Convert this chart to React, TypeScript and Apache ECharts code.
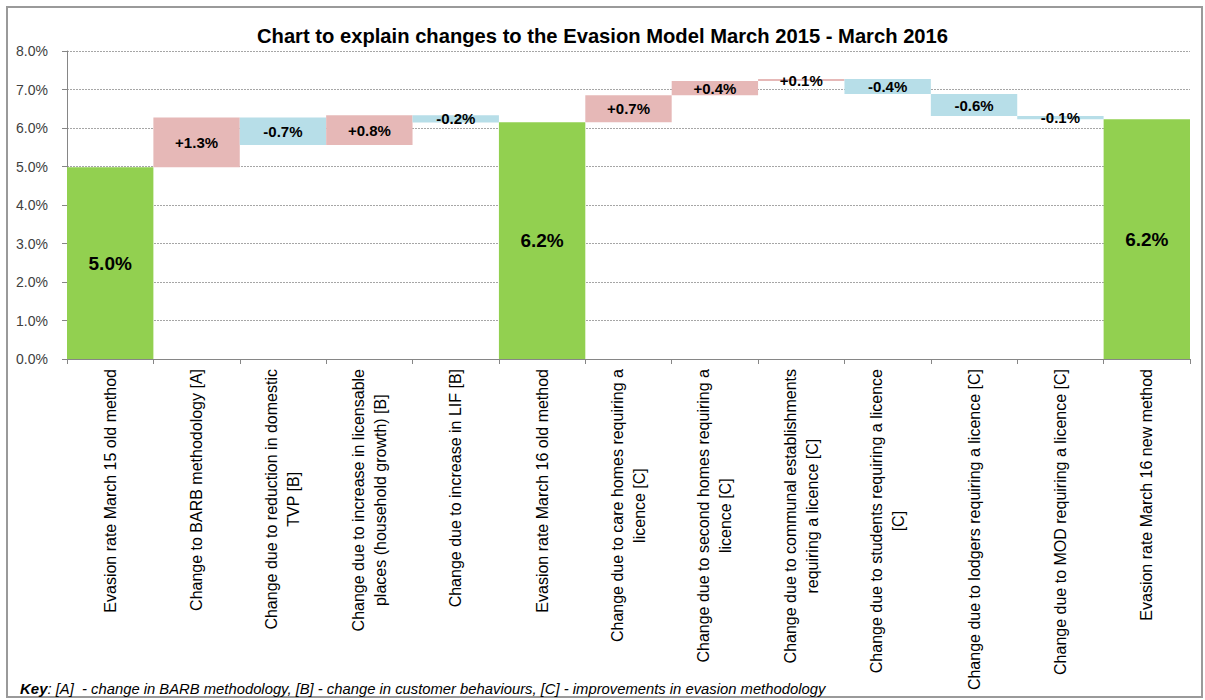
import React, { useEffect, useRef } from "react";
import * as echarts from "echarts";

const categories = [
  "Evasion rate March 15 old method",
  "Change to BARB methodology [A]",
  "Change due to reduction in domestic\nTVP [B]",
  "Change due to increase in licensable\nplaces (household growth) [B]",
  "Change due to increase in LIF [B]",
  "Evasion rate March 16 old method",
  "Change due to care homes requiring a\nlicence [C]",
  "Change due to second homes requiring a\nlicence [C]",
  "Change due to communal establishments\nrequiring a licence [C]",
  "Change due to students requiring a licence\n[C]",
  "Change due to lodgers requiring a licence [C]",
  "Change due to MOD requiring a licence [C]",
  "Evasion rate March 16 new method",
];

// totals (null where the bar is a change)
const totals: (number | null)[] = [4.98, null, null, null, null, 6.15, null, null, null, null, null, null, 6.23];
// changes (null where the bar is a total)
const changes: (number | null)[] = [null, 1.29, -0.71, 0.77, -0.19, null, 0.70, 0.37, 0.05, -0.39, -0.57, -0.08, null];

const yTicks = [0, 1, 2, 3, 4, 5, 6, 7, 8];

const title = "Chart to explain changes to the Evasion Model March 2015 - March 2016";

const GREEN = "#92D050";
const PINK = "#E6B8B7";
const BLUE = "#B7DEE8";

export default function App() {
  const ref = useRef<HTMLDivElement>(null);
  useEffect(() => {
    if (!ref.current) return;
    const chart = echarts.init(ref.current, undefined, { renderer: "svg" });

    const bases: number[] = [];
    const heights: any[] = [];
    const labels: string[] = [];
    let running = 0;
    categories.forEach((_, i) => {
      const t = totals[i];
      const c = changes[i];
      if (t !== null && t !== undefined) {
        running = t;
        bases.push(0);
        heights.push({ value: t, itemStyle: { color: GREEN }, label: { fontSize: 19 } });
        labels.push((Math.round(t * 10) / 10).toFixed(1) + "%");
      } else if (c !== null && c !== undefined) {
        const next = running + c;
        bases.push(Math.min(running, next));
        heights.push({ value: Math.abs(c), itemStyle: { color: c >= 0 ? PINK : BLUE }, label: { fontSize: 15 } });
        const r = Math.round(c * 10) / 10;
        labels.push((r >= 0 ? "+" : "-") + Math.abs(r).toFixed(1) + "%");
        running = next;
      }
    });

    chart.setOption({
      animation: false,
      textStyle: { fontFamily: "Liberation Sans, Arial, sans-serif" },
      title: {
        text: title,
        left: "center",
        top: 21,
        textStyle: { fontSize: 20.2, fontWeight: "bold", color: "#000", fontFamily: "Liberation Sans, Arial, sans-serif" },
      },
      grid: { left: 67, right: 15, top: 51, bottom: 341, containLabel: false },
      xAxis: {
        type: "category",
        data: categories,
        axisLine: { lineStyle: { color: "#868686", width: 1 } },
        axisTick: { show: true, length: 5, lineStyle: { color: "#868686" } },
        axisLabel: {
          rotate: 90,
          interval: 0,
          margin: 10,
          fontSize: 16,
          color: "#000",
          lineHeight: 22,
          fontFamily: "Liberation Sans, Arial, sans-serif",
          formatter: (v: string) =>
            v
              .split("\n")
              .map((line) => "{c|" + line + "}")
              .join("\n"),
          rich: {
            c: {
              align: "center",
              fontSize: 16,
              lineHeight: 22,
              color: "#000",
              fontFamily: "Liberation Sans, Arial, sans-serif",
            },
          },
        },
      },
      yAxis: {
        type: "value",
        min: 0,
        max: 8,
        interval: 1,
        axisLine: { show: true, lineStyle: { color: "#868686" } },
        axisTick: { show: true, length: 5, lineStyle: { color: "#868686" } },
        axisLabel: {
          fontSize: 14,
          color: "#404040",
          margin: 19,
          formatter: (v: number) => (yTicks.includes(v) ? v.toFixed(1) + "%" : ""),
        },
        splitLine: { show: true, lineStyle: { color: "#A6A6A6", type: [2, 1], width: 1 } },
      },
      graphic: [
        {
          type: "rect",
          shape: { x: 7, y: 7, width: 1195, height: 690 },
          style: { fill: "none", stroke: "#9A9A9A", lineWidth: 2 },
          silent: true,
          z: -10,
        },
        {
          type: "text",
          left: 20,
          top: 681,
          style: {
            text: "{b|Key}{i|: [A]  - change in BARB methodology, [B] - change in customer behaviours, [C] - improvements in evasion methodology}",
            rich: {
              b: { fontWeight: "bold", fontStyle: "italic", fontSize: 15, fill: "#000", fontFamily: "Liberation Sans, Arial" },
              i: { fontStyle: "italic", fontSize: 14.8, fill: "#000", fontFamily: "Liberation Sans, Arial" },
            },
          },
        },
      ],
      series: [
        {
          type: "bar",
          stack: "w",
          data: bases,
          barWidth: "100%",
          barCategoryGap: 0,
          itemStyle: { color: "transparent" },
          silent: true,
        },
        {
          type: "bar",
          stack: "w",
          data: heights,
          barWidth: "100%",
          barCategoryGap: 0,
          label: {
            show: true,
            position: "inside",
            fontWeight: "bold",
            color: "#000",
            fontFamily: "Liberation Sans, Arial, sans-serif",
            formatter: (p: any) => labels[p.dataIndex],
          },
        },
      ],
    });

    return () => chart.dispose();
  }, []);
  return (
    <div
      ref={ref}
      style={{ position: "fixed", left: 0, top: 0, width: 1205, height: 700, background: "#fff" }}
    />
  );
}
